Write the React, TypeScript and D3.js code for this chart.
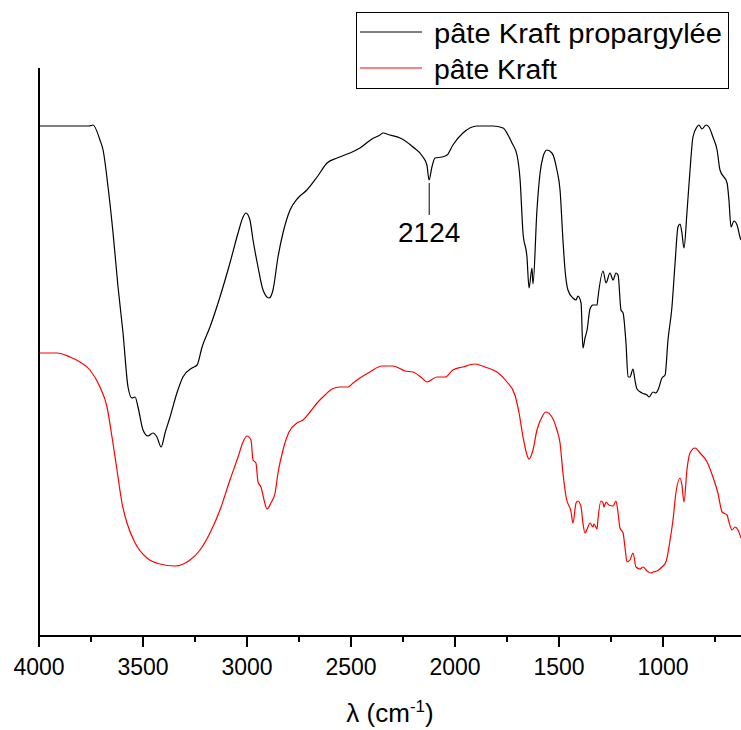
import React from 'react';
import * as d3 from 'd3';

// wavenumber (cm-1) / transmittance-like values
const propWave = [4000, 3760, 3740, 3707, 3692, 3668, 3644, 3620, 3596, 3572, 3553, 3538, 3524, 3500, 3476, 3452, 3433, 3413, 3394, 3370, 3337, 3308, 3264, 3240, 3216, 3178, 3130, 3082, 3043, 3019, 3005, 2986, 2971, 2947, 2923, 2894, 2875, 2851, 2827, 2793, 2755, 2712, 2663, 2615, 2567, 2505, 2457, 2399, 2361, 2346, 2313, 2264, 2202, 2154, 2135, 2125, 2111, 2096, 2063, 2038, 2010, 1962, 1894, 1817, 1769, 1745, 1726, 1702, 1687, 1673, 1654, 1644, 1630, 1625, 1606, 1591, 1577, 1558, 1534, 1510, 1495, 1481, 1471, 1457, 1433, 1418, 1409, 1394, 1385, 1375, 1365, 1351, 1337, 1317, 1313, 1288, 1274, 1255, 1240, 1226, 1216, 1202, 1192, 1178, 1168, 1159, 1144, 1135, 1125, 1101, 1077, 1067, 1048, 1034, 1024, 1005, 990, 976, 957, 942, 928, 918, 909, 899, 885, 870, 856, 837, 827, 813, 793, 779, 760, 740, 726, 692, 683, 673, 659, 644, 630, 625];
const propVal = [102, 102, 102.2, 99.2, 97.2, 89.8, 80.6, 69.8, 60.6, 49.8, 47.6, 47.8, 45.8, 41.2, 40, 40.6, 39.8, 37.8, 40.6, 43.8, 48.6, 51.8, 53.6, 54.2, 57.8, 61.8, 67.8, 74.6, 80.6, 83.8, 84.6, 83.2, 79.2, 73.8, 69.2, 67.6, 69.2, 75.8, 80.6, 85.2, 87.6, 89.2, 91.8, 94.6, 95.6, 96.6, 97.6, 99.4, 100.2, 100.6, 100.2, 99.6, 97.8, 95.8, 94.2, 91.2, 93.8, 95.6, 95.8, 96.2, 98.2, 100.6, 102, 102, 101.6, 100.2, 98.6, 96.2, 91.2, 80.6, 75.8, 69.6, 73.6, 70.4, 85.2, 92.6, 95.8, 97.2, 96.6, 93.2, 89.2, 79.2, 73.2, 69.2, 67.6, 67.2, 68, 66.6, 57.6, 59.6, 61.2, 65.4, 66.2, 66.2, 67.6, 73, 70.6, 72.6, 71.2, 72.6, 72.2, 65.2, 64.6, 58.6, 51.8, 51.8, 53.4, 51.2, 49.4, 48.6, 48.2, 47.8, 48.8, 48.6, 49.2, 51.6, 52.2, 59.2, 65.8, 74.6, 81.8, 82.4, 80.6, 77.6, 84.6, 93.2, 99.8, 101.8, 102.2, 101.4, 102.2, 101.8, 99.8, 97.2, 93.2, 90.6, 87.2, 81.8, 83, 82.2, 79.8, 79.2];

const kraftWave = [4000, 3913, 3851, 3803, 3755, 3707, 3673, 3649, 3625, 3601, 3577, 3538, 3481, 3418, 3346, 3274, 3226, 3178, 3130, 3082, 3043, 3019, 3000, 2981, 2971, 2957, 2947, 2933, 2918, 2904, 2885, 2865, 2851, 2827, 2798, 2760, 2731, 2697, 2663, 2625, 2591, 2553, 2514, 2490, 2457, 2409, 2351, 2298, 2240, 2202, 2159, 2135, 2087, 2048, 2010, 1962, 1904, 1856, 1798, 1750, 1712, 1692, 1673, 1654, 1644, 1625, 1606, 1582, 1563, 1534, 1510, 1495, 1481, 1466, 1442, 1433, 1418, 1409, 1394, 1385, 1375, 1361, 1351, 1337, 1332, 1317, 1313, 1298, 1288, 1284, 1274, 1260, 1240, 1226, 1216, 1207, 1192, 1183, 1173, 1159, 1144, 1130, 1111, 1096, 1077, 1058, 1048, 1029, 1005, 986, 966, 952, 938, 918, 909, 899, 885, 870, 846, 822, 788, 760, 736, 716, 692, 683, 668, 654, 639, 625];
const kraftVal = [56.6, 56.6, 55.8, 54.8, 53.2, 49.8, 45.8, 39.8, 33.2, 26.6, 22.6, 18.6, 15.6, 14.4, 14, 15.2, 17.2, 20.6, 25.2, 31.2, 35.8, 38.8, 40, 39.2, 35.2, 34.6, 30.8, 29.8, 27.2, 25.4, 26.6, 28.6, 32.6, 37.2, 40.8, 42.6, 43.2, 44.8, 46.6, 48.2, 49.4, 49.8, 49.8, 50.6, 51.6, 52.8, 54, 54, 53, 52.8, 51.6, 50.8, 51.8, 51.8, 53.2, 53.8, 54.4, 53.8, 52.8, 50.8, 48.2, 44.6, 39.8, 36.2, 35.4, 37.2, 41.2, 43.8, 44.8, 43.8, 41.2, 38.6, 32.6, 27.8, 24.8, 22.6, 26.6, 27, 25.8, 22.6, 20.6, 21.8, 22.6, 21.8, 22.4, 21.4, 23.2, 27, 26.6, 25.8, 26.8, 26.2, 26, 27, 24.6, 21.6, 20.6, 17.8, 14.8, 15.2, 16.6, 13.8, 13.4, 13.8, 13, 12.6, 12.8, 13, 13.8, 14.8, 19.2, 23.2, 28.6, 31.6, 30.2, 26.8, 33.2, 36.6, 37.6, 36.6, 34.8, 31.8, 28.6, 24.8, 24.2, 22.8, 21.2, 21.8, 21.2, 19.6];

const majorTicks = [4000, 3500, 3000, 2500, 2000, 1500, 1000];
const minorTicks = [3750, 3250, 2750, 2250, 1750, 1250, 750];
const seriesNames = ['pâte Kraft propargylée', 'pâte Kraft'];
const seriesColors = ['#000000', '#ff0000'];
const peakLabel = 2124;

const FONT = '"Liberation Sans", Arial, sans-serif';

export default function App() {
  const W = 741;
  const H = 730;
  const margin = { left: 39, top: 68, bottom: 94 };

  const x = d3.scaleLinear().domain([4000, 625]).range([margin.left, W]);
  const y = d3.scaleLinear().domain([0, 113.6]).range([H - margin.bottom, margin.top]);

  const line = d3
    .line<[number, number]>()
    .x((d) => x(d[0]))
    .y((d) => y(d[1]))
    .curve(d3.curveMonotoneX);

  const prop = propWave.map((w, i) => [w, propVal[i]] as [number, number]);
  const kraft = kraftWave.map((w, i) => [w, kraftVal[i]] as [number, number]);

  const y0 = y(0);
  const peakIdx = propWave.indexOf(2125);
  const peakY = y(propVal[peakIdx]);

  return (
    <svg
      width={W}
      height={H}
      style={{ position: 'absolute', left: 0, top: 0, background: '#fff' }}
      fontFamily={FONT}
    >
      <path d={line(kraft) || ''} fill="none" stroke={seriesColors[1]} strokeWidth={1.2} />
      <path d={line(prop) || ''} fill="none" stroke={seriesColors[0]} strokeWidth={1.2} />

      {/* peak annotation */}
      <line x1={x(peakLabel)} x2={x(peakLabel)} y1={peakY + 3} y2={peakY + 35} stroke="#000" strokeWidth={1} />
      <text x={x(peakLabel)} y={242} textAnchor="middle" fontSize={28}>
        {peakLabel}
      </text>

      {/* axes */}
      <line x1={margin.left} x2={margin.left} y1={margin.top} y2={y0 + 1} stroke="#000" strokeWidth={2} />
      <line x1={margin.left - 1} x2={W} y1={y0} y2={y0} stroke="#000" strokeWidth={2} />
      {majorTicks.map((t) => (
        <g key={t}>
          <line x1={x(t)} x2={x(t)} y1={y0} y2={y0 + 11} stroke="#000" strokeWidth={2} />
          <text x={x(t)} y={y0 + 39} textAnchor="middle" fontSize={23}>
            {t}
          </text>
        </g>
      ))}
      {minorTicks.map((t) => (
        <line key={t} x1={x(t)} x2={x(t)} y1={y0} y2={y0 + 6} stroke="#000" strokeWidth={2} />
      ))}
      <text x={390} y={722} textAnchor="middle" fontSize={26}>
        λ (cm<tspan fontSize={17} dy={-10}>-1</tspan>
        <tspan dy={10}>)</tspan>
      </text>

      {/* legend */}
      <rect x={356.5} y={12.5} width={372} height={76} fill="#fff" stroke="#000" strokeWidth={1} />
      {seriesNames.map((name, i) => (
        <g key={name}>
          <line x1={360} x2={422} y1={32 + i * 36} y2={32 + i * 36} stroke={seriesColors[i]} strokeWidth={1} />
          <text
            x={434}
            y={43 + i * 36}
            fontSize={27}
            textLength={i === 0 ? 288 : 123}
            lengthAdjust="spacingAndGlyphs"
          >
            {name}
          </text>
        </g>
      ))}
    </svg>
  );
}
